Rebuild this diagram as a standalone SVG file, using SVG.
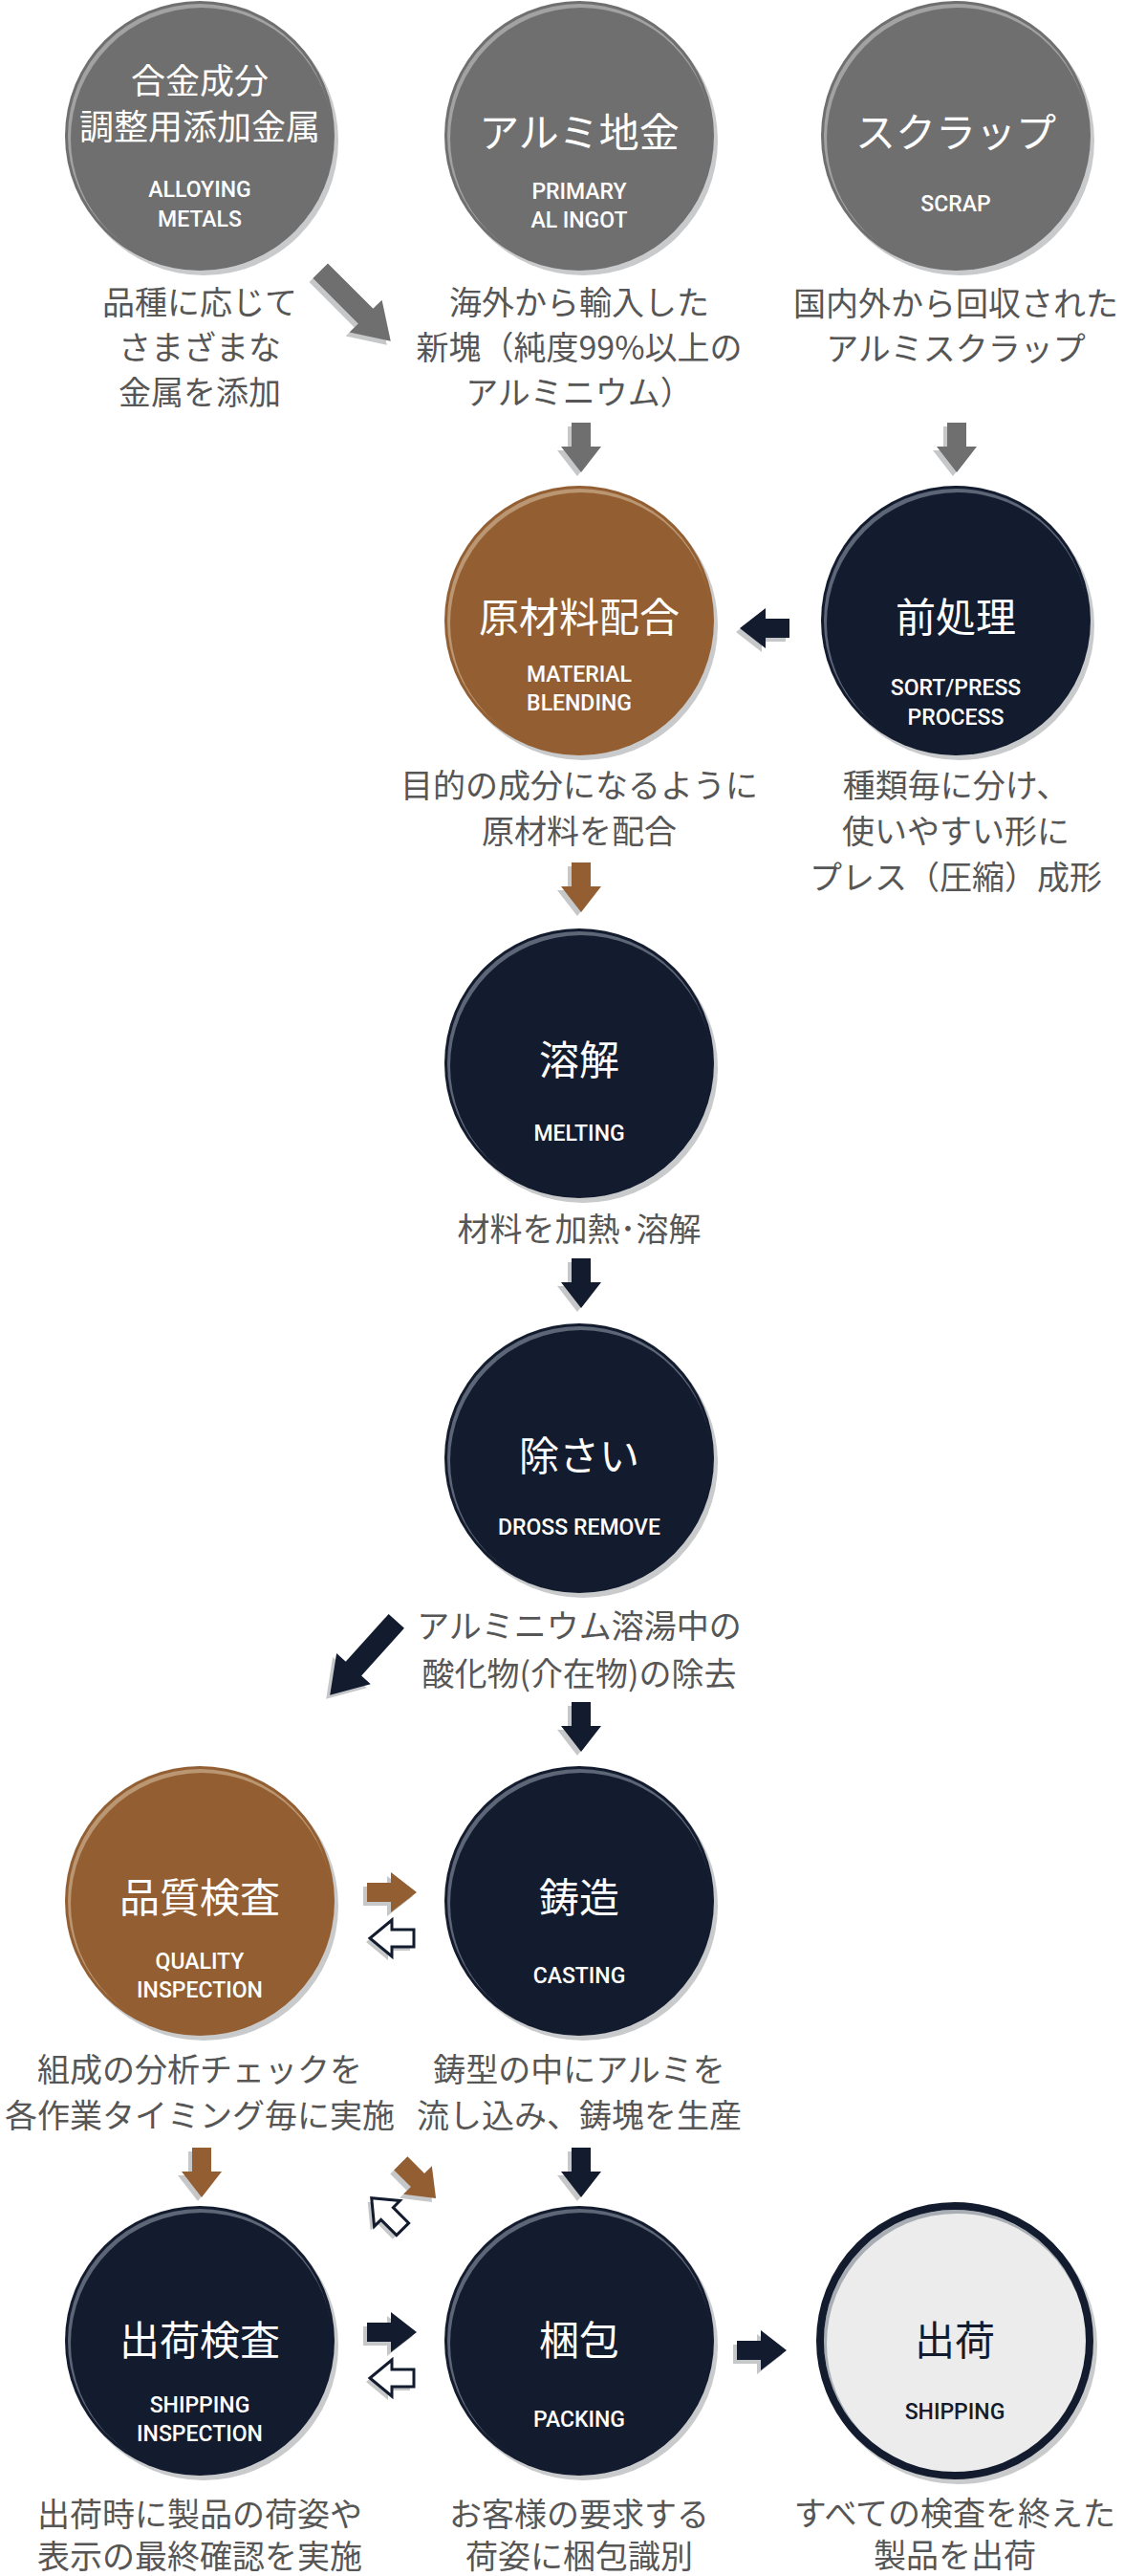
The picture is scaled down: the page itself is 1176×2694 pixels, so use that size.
<svg xmlns="http://www.w3.org/2000/svg" xmlns:xlink="http://www.w3.org/1999/xlink" width="1176" height="2694" viewBox="0 0 1176 2694">
<style>
.bg{fill:#ffffff}
.sh{fill:#c9cacc}
.gray .b{fill:#6f6f6f}.gray .h{fill:#a2a2a2}
.brown .b{fill:#935f32}.brown .h{fill:#bb9673}
.navy .b{fill:#131c2e}.navy .h{fill:#5d6676}
.light .b{fill:#ececec}.light .h{fill:#a9aeb5}
.ring{fill:none;stroke:#131c2e;stroke-width:8}
.t{font-family:"Noto Sans CJK JP","Noto Sans",sans-serif;fill:#ffffff;text-anchor:middle;font-size:42px}
.t2{font-size:36px}
.e{font-family:Roboto,"Liberation Sans",sans-serif;font-weight:500;fill:#ffffff;text-anchor:middle;font-size:23px}
.dk{fill:#131c2e}
.d{font-family:"Noto Sans CJK JP","Noto Sans",sans-serif;fill:#565656;text-anchor:middle;font-size:34px}
.as{fill:#c6c7c9}
.ag{fill:#6f6f6f}
.ab{fill:#935f32}
.an{fill:#131c2e}
.ao{fill:#ffffff;stroke:#131c2e;stroke-width:3;stroke-linejoin:miter}
</style>
<defs>
<path id="arr" d="M-26,-10 H-1 V-21 L26,0 L-1,21 V10 H-26 Z"/>
<path id="arrD" d="M-25,-10 H0 V-21 L27,0 L0,21 V10 H-25 Z"/>
<path id="arrL" d="M-52,-11 H15 V-24 L52,0 L15,24 V11 H-52 Z"/>
<path id="arrO" d="M-23,-9 H0 V-19 L23,0 L0,19 V9 H-23 Z"/>
</defs>
<rect class="bg" x="0" y="0" width="1176" height="2694"/>

<g id="connectors">
  <use href="#arrL" class="as" transform="translate(368,324) rotate(45)"/>
  <use href="#arrL" class="ag" transform="translate(372,320) rotate(45)"/>
  <use href="#arr" class="as" transform="translate(604,472) rotate(90)"/>
  <use href="#arr" class="ag" transform="translate(608,468) rotate(90)"/>
  <use href="#arr" class="as" transform="translate(997,472) rotate(90)"/>
  <use href="#arr" class="ag" transform="translate(1001,468) rotate(90)"/>
  <use href="#arr" class="as" transform="translate(796,661) rotate(180)"/>
  <use href="#arr" class="an" transform="translate(800,657) rotate(180)"/>
  <use href="#arr" class="as" transform="translate(604,932) rotate(90)"/>
  <use href="#arr" class="ab" transform="translate(608,928) rotate(90)"/>
  <use href="#arr" class="as" transform="translate(604,1346) rotate(90)"/>
  <use href="#arr" class="an" transform="translate(608,1342) rotate(90)"/>
  <use href="#arrL" class="as" transform="translate(376,1738) rotate(132)"/>
  <use href="#arrL" class="an" transform="translate(380,1734) rotate(132)"/>
  <use href="#arr" class="as" transform="translate(604,1810) rotate(90)"/>
  <use href="#arr" class="an" transform="translate(608,1806) rotate(90)"/>
  <use href="#arr" class="as" transform="translate(406,1983)"/>
  <use href="#arr" class="ab" transform="translate(410,1979)"/>
  <use href="#arrO" class="as" transform="translate(406,2031) rotate(180)"/>
  <use href="#arrO" class="ao" transform="translate(410,2027) rotate(180)"/>
  <use href="#arr" class="as" transform="translate(207,2276) rotate(90)"/>
  <use href="#arr" class="ab" transform="translate(211,2272) rotate(90)"/>
  <use href="#arrD" class="as" transform="translate(433,2284) rotate(45)"/>
  <use href="#arrD" class="ab" transform="translate(437,2280) rotate(45)"/>
  <use href="#arrO" class="as" transform="translate(401,2319) rotate(-135)"/>
  <use href="#arrO" class="ao" transform="translate(405,2315) rotate(-135)"/>
  <use href="#arr" class="as" transform="translate(604,2276) rotate(90)"/>
  <use href="#arr" class="an" transform="translate(608,2272) rotate(90)"/>
  <use href="#arr" class="as" transform="translate(406,2443)"/>
  <use href="#arr" class="an" transform="translate(410,2439)"/>
  <use href="#arrO" class="as" transform="translate(406,2491) rotate(180)"/>
  <use href="#arrO" class="ao" transform="translate(410,2487) rotate(180)"/>
  <use href="#arr" class="as" transform="translate(793,2462)"/>
  <use href="#arr" class="an" transform="translate(797,2458)"/>
</g>

<g id="node-alloying" class="gray">
  <circle class="sh" cx="213" cy="147" r="141"/>
  <circle class="b" cx="209" cy="142" r="141"/>
  <circle class="h" cx="209" cy="142" r="138"/>
  <circle class="b" cx="211" cy="145" r="137"/>
  <text class="t t2" x="209" y="98">合金成分</text>
  <text class="t t2" x="209" y="146">調整用添加金属</text>
  <text class="e" x="209" y="206">ALLOYING</text>
  <text class="e" x="209" y="237">METALS</text>
  <text class="d" x="209" y="329">品種に応じて</text>
  <text class="d" x="209" y="376">さまざまな</text>
  <text class="d" x="209" y="423">金属を添加</text>
</g>

<g id="node-ingot" class="gray">
  <circle class="sh" cx="610" cy="147" r="141"/>
  <circle class="b" cx="606" cy="142" r="141"/>
  <circle class="h" cx="606" cy="142" r="138"/>
  <circle class="b" cx="608" cy="145" r="137"/>
  <text class="t" x="606" y="154">アルミ地金</text>
  <text class="e" x="606" y="208">PRIMARY</text>
  <text class="e" x="606" y="238">AL INGOT</text>
  <text class="d" x="606" y="329">海外から輸入した</text>
  <text class="d" x="606" y="376">新塊（純度99%以上の</text>
  <text class="d" x="606" y="423">アルミニウム）</text>
</g>

<g id="node-scrap" class="gray">
  <circle class="sh" cx="1004" cy="147" r="141"/>
  <circle class="b" cx="1000" cy="142" r="141"/>
  <circle class="h" cx="1000" cy="142" r="138"/>
  <circle class="b" cx="1002" cy="145" r="137"/>
  <text class="t" x="1000" y="154">スクラップ</text>
  <text class="e" x="1000" y="221">SCRAP</text>
  <text class="d" x="1000" y="330">国内外から回収された</text>
  <text class="d" x="1000" y="377">アルミスクラップ</text>
</g>

<g id="node-blending" class="brown">
  <circle class="sh" cx="610" cy="654" r="141"/>
  <circle class="b" cx="606" cy="649" r="141"/>
  <circle class="h" cx="606" cy="649" r="138"/>
  <circle class="b" cx="608" cy="652" r="137"/>
  <text class="t" x="606" y="661">原材料配合</text>
  <text class="e" x="606" y="713">MATERIAL</text>
  <text class="e" x="606" y="743">BLENDING</text>
  <text class="d" x="606" y="834">目的の成分になるように</text>
  <text class="d" x="606" y="882">原材料を配合</text>
</g>

<g id="node-pretreatment" class="navy">
  <circle class="sh" cx="1004" cy="654" r="141"/>
  <circle class="b" cx="1000" cy="649" r="141"/>
  <circle class="h" cx="1000" cy="649" r="138"/>
  <circle class="b" cx="1002" cy="652" r="137"/>
  <text class="t" x="1000" y="661">前処理</text>
  <text class="e" x="1000" y="727">SORT/PRESS</text>
  <text class="e" x="1000" y="758">PROCESS</text>
  <text class="d" x="1000" y="834">種類毎に分け、</text>
  <text class="d" x="1000" y="882">使いやすい形に</text>
  <text class="d" x="1000" y="930">プレス（圧縮）成形</text>
</g>

<g id="node-melting" class="navy">
  <circle class="sh" cx="610" cy="1117" r="141"/>
  <circle class="b" cx="606" cy="1112" r="141"/>
  <circle class="h" cx="606" cy="1112" r="138"/>
  <circle class="b" cx="608" cy="1115" r="137"/>
  <text class="t" x="606" y="1124">溶解</text>
  <text class="e" x="606" y="1193">MELTING</text>
  <text class="d" x="606" y="1298">材料を加熱･溶解</text>
</g>

<g id="node-dross" class="navy">
  <circle class="sh" cx="610" cy="1530" r="141"/>
  <circle class="b" cx="606" cy="1525" r="141"/>
  <circle class="h" cx="606" cy="1525" r="138"/>
  <circle class="b" cx="608" cy="1528" r="137"/>
  <text class="t" x="606" y="1538">除さい</text>
  <text class="e" x="606" y="1605">DROSS REMOVE</text>
  <text class="d" x="606" y="1713">アルミニウム溶湯中の</text>
  <text class="d" x="606" y="1763">酸化物(介在物)の除去</text>
</g>

<g id="node-quality" class="brown">
  <circle class="sh" cx="213" cy="1993" r="141"/>
  <circle class="b" cx="209" cy="1988" r="141"/>
  <circle class="h" cx="209" cy="1988" r="138"/>
  <circle class="b" cx="211" cy="1991" r="137"/>
  <text class="t" x="209" y="2000">品質検査</text>
  <text class="e" x="209" y="2059">QUALITY</text>
  <text class="e" x="209" y="2089">INSPECTION</text>
  <text class="d" x="209" y="2177">組成の分析チェックを</text>
  <text class="d" x="209" y="2225">各作業タイミング毎に実施</text>
</g>

<g id="node-casting" class="navy">
  <circle class="sh" cx="610" cy="1993" r="141"/>
  <circle class="b" cx="606" cy="1988" r="141"/>
  <circle class="h" cx="606" cy="1988" r="138"/>
  <circle class="b" cx="608" cy="1991" r="137"/>
  <text class="t" x="606" y="2000">鋳造</text>
  <text class="e" x="606" y="2074">CASTING</text>
  <text class="d" x="606" y="2177">鋳型の中にアルミを</text>
  <text class="d" x="606" y="2225">流し込み、鋳塊を生産</text>
</g>

<g id="node-shipping-inspection" class="navy">
  <circle class="sh" cx="213" cy="2453" r="141"/>
  <circle class="b" cx="209" cy="2448" r="141"/>
  <circle class="h" cx="209" cy="2448" r="138"/>
  <circle class="b" cx="211" cy="2451" r="137"/>
  <text class="t" x="209" y="2463">出荷検査</text>
  <text class="e" x="209" y="2523">SHIPPING</text>
  <text class="e" x="209" y="2553">INSPECTION</text>
  <text class="d" x="209" y="2642">出荷時に製品の荷姿や</text>
  <text class="d" x="209" y="2686">表示の最終確認を実施</text>
</g>

<g id="node-packing" class="navy">
  <circle class="sh" cx="610" cy="2453" r="141"/>
  <circle class="b" cx="606" cy="2448" r="141"/>
  <circle class="h" cx="606" cy="2448" r="138"/>
  <circle class="b" cx="608" cy="2451" r="137"/>
  <text class="t" x="606" y="2463">梱包</text>
  <text class="e" x="606" y="2538">PACKING</text>
  <text class="d" x="606" y="2642">お客様の要求する</text>
  <text class="d" x="606" y="2686">荷姿に梱包識別</text>
</g>

<g id="node-shipping" class="light">
  <circle class="sh" cx="1003" cy="2453" r="145"/>
  <circle class="b" cx="999" cy="2448" r="141"/>
  <circle class="h" cx="999" cy="2448" r="137"/>
  <circle class="b" cx="1001" cy="2451" r="136"/>
  <circle class="ring" cx="999" cy="2448" r="141"/>
  <text class="t dk" x="999" y="2463">出荷</text>
  <text class="e dk" x="999" y="2530">SHIPPING</text>
  <text class="d" x="999" y="2641">すべての検査を終えた</text>
  <text class="d" x="999" y="2685">製品を出荷</text>
</g>
</svg>
